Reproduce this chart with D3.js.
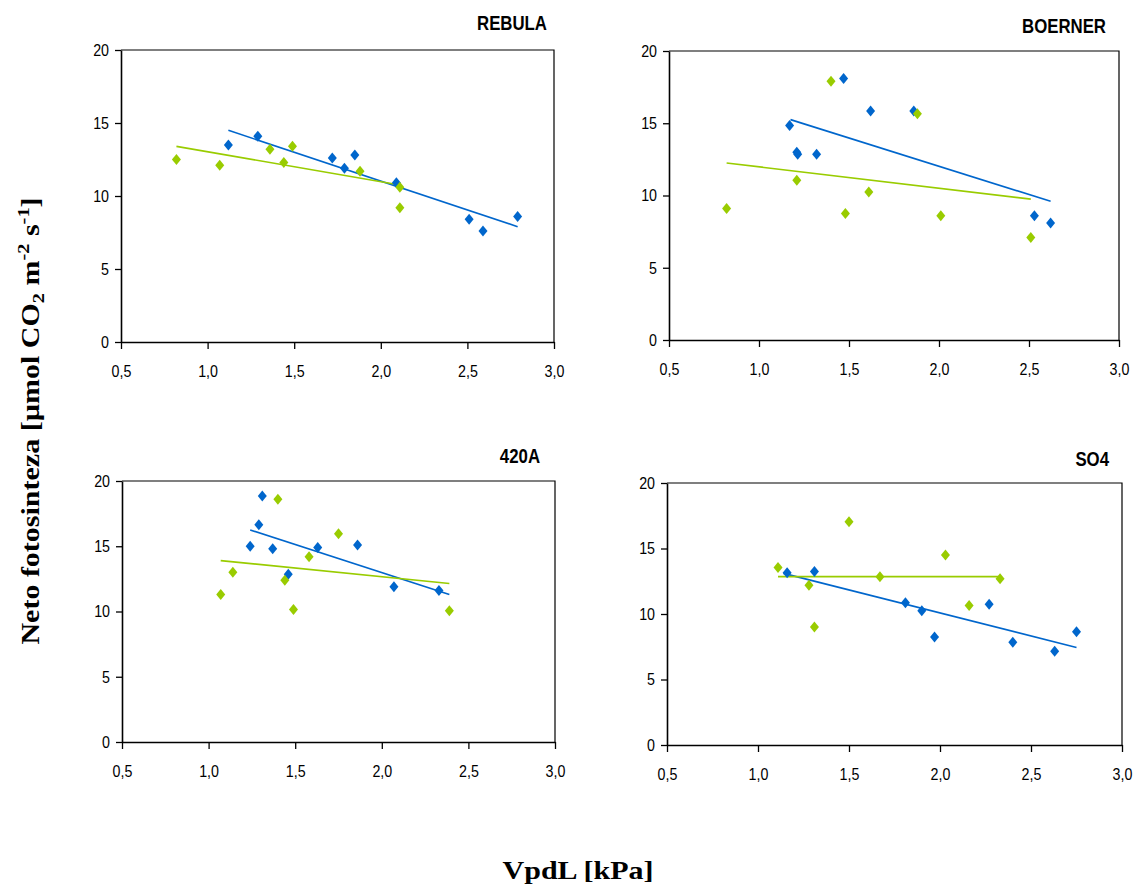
<!DOCTYPE html>
<html lang="sl">
  <head>
    <meta charset="UTF-8" />
    <title>Neto fotosinteza / VpdL</title>
    <script src="https://cdn.jsdelivr.net/npm/d3@7"></script>
    <style>
      body { margin: 0; background: #fff; }
      svg { display: block; }
      .tick line { stroke: #000; stroke-width: 1.3; }
      .domain { stroke: #000; stroke-width: 1.6; }
    </style>
  </head>
  <body>
    <svg id="chart" width="1135" height="886"></svg>
    <script>
      // axis ticks
      var xTicks = [0.5, 1.0, 1.5, 2.0, 2.5, 3.0];
      var yTicks = [0, 5, 10, 15, 20];
      var panelNames = ["REBULA", "BOERNER", "420A", "SO4"];

      // points: [VpdL, neto fotosinteza]
      var rebulaBlue = [[1.12, 13.5], [1.29, 14.1], [1.72, 12.6], [1.79, 11.9], [1.85, 12.8],
                        [2.09, 10.9], [2.51, 8.4], [2.59, 7.6], [2.79, 8.6]];
      var rebulaGreen = [[0.82, 12.5], [1.07, 12.1], [1.36, 13.2], [1.44, 12.3], [1.49, 13.4],
                         [1.88, 11.7], [2.11, 10.6], [2.11, 9.2]];
      var boernerBlue = [[1.17, 14.85], [1.21, 13.0], [1.215, 12.85], [1.32, 12.85], [1.47, 18.1],
                         [1.62, 15.85], [1.86, 15.85], [2.53, 8.6], [2.62, 8.1]];
      var boernerGreen = [[0.82, 9.1], [1.21, 11.05], [1.40, 17.9], [1.48, 8.75], [1.61, 10.25],
                          [1.88, 15.65], [2.01, 8.6], [2.51, 7.1]];
      var a420Blue = [[1.24, 15.0], [1.29, 16.65], [1.31, 18.85], [1.37, 14.8], [1.46, 12.85],
                      [1.63, 14.9], [1.86, 15.1], [2.07, 11.9], [2.33, 11.6]];
      var a420Green = [[1.07, 11.3], [1.14, 13.0], [1.40, 18.6], [1.44, 12.4], [1.49, 10.15],
                       [1.58, 14.2], [1.75, 15.95], [2.39, 10.05]];
      var so4Blue = [[1.16, 13.15], [1.31, 13.25], [1.81, 10.85], [1.90, 10.25], [1.97, 8.25],
                     [2.27, 10.75], [2.40, 7.85], [2.63, 7.15], [2.75, 8.65]];
      var so4Green = [[1.11, 13.55], [1.28, 12.2], [1.31, 9.0], [1.50, 17.05], [1.67, 12.85],
                      [2.03, 14.5], [2.16, 10.65], [2.33, 12.7]];

      // trend line ends: [x1, y1, x2, y2]
      var rebulaBlueFit = [1.12, 14.5, 2.79, 7.9];
      var rebulaGreenFit = [0.82, 13.4, 2.11, 10.75];
      var boernerBlueFit = [1.175, 15.25, 2.62, 9.6];
      var boernerGreenFit = [0.82, 12.25, 2.51, 9.75];
      var a420BlueFit = [1.24, 16.25, 2.39, 11.3];
      var a420GreenFit = [1.07, 13.9, 2.39, 12.15];
      var so4BlueFit = [1.14, 13.1, 2.75, 7.45];
      var so4GreenFit = [1.11, 12.85, 2.33, 12.85];

      var blue = "#0066cc", green = "#99cc00";

      var panels = [
        { name: panelNames[0], box: [121, 50, 554, 342], title: [547, 30],
          series: [[rebulaBlue, rebulaBlueFit, blue], [rebulaGreen, rebulaGreenFit, green]] },
        { name: panelNames[1], box: [669, 51, 1119, 340], title: [1106, 33],
          series: [[boernerBlue, boernerBlueFit, blue], [boernerGreen, boernerGreenFit, green]] },
        { name: panelNames[2], box: [122, 481, 555, 742], title: [540, 463],
          series: [[a420Blue, a420BlueFit, blue], [a420Green, a420GreenFit, green]] },
        { name: panelNames[3], box: [667, 483, 1122, 745], title: [1109, 466],
          series: [[so4Blue, so4BlueFit, blue], [so4Green, so4GreenFit, green]] }
      ];

      var svg = d3.select("#chart");
      var tickFont = "Liberation Sans, Arial, sans-serif";

      // diamond marker, a bit taller than wide
      function diamond(w, h) {
        return "M0," + (-h / 2) + "L" + (w / 2) + ",0L0," + (h / 2) + "L" + (-w / 2) + ",0Z";
      }

      panels.forEach(function(p) {
        var x0 = p.box[0], y0 = p.box[1], x1 = p.box[2], y1 = p.box[3];
        var xScale = d3.scaleLinear().domain([0.5, 3.0]).range([x0, x1]);
        var yScale = d3.scaleLinear().domain([0, 20]).range([y1, y0]);

        var g = svg.append("g");

        // top and right border
        g.append("path")
          .attr("d", "M" + x0 + "," + y0 + "H" + x1 + "V" + y1)
          .attr("fill", "none")
          .attr("stroke", "#000")
          .attr("stroke-width", 1.2);

        var xAxis = d3.axisBottom(xScale)
          .tickValues(xTicks)
          .tickSize(7)
          .tickSizeOuter(0)
          .tickPadding(16)
          .tickFormat(function(d) { return d3.format(".1f")(d).replace(".", ","); });
        var yAxis = d3.axisLeft(yScale)
          .tickValues(yTicks)
          .tickSize(6)
          .tickSizeOuter(0)
          .tickPadding(6)
          .tickFormat(d3.format("d"));

        var gx = g.append("g")
          .attr("transform", "translate(0," + y1 + ")")
          .call(xAxis);
        var gy = g.append("g")
          .attr("transform", "translate(" + x0 + ",0)")
          .call(yAxis);

        [gx, gy].forEach(function(ax) {
          ax.selectAll("text")
            .attr("font-family", tickFont)
            .attr("font-size", 17)
            .attr("fill", "#000");
        });
        // condensed look of the tick numbers
        gx.selectAll("text").attr("transform", "scale(0.84,1)");
        gy.selectAll("text").attr("transform", "scale(0.84,1)").attr("x", -12 / 0.84);

        // trend lines
        p.series.forEach(function(s) {
          var f = s[1];
          g.append("line")
            .attr("x1", xScale(f[0])).attr("y1", yScale(f[1]))
            .attr("x2", xScale(f[2])).attr("y2", yScale(f[3]))
            .attr("stroke", s[2])
            .attr("stroke-width", 1.6);
        });

        // points
        p.series.forEach(function(s) {
          g.selectAll(null)
            .data(s[0])
            .enter()
            .append("path")
            .attr("d", diamond(9, 11))
            .attr("transform", function(d) {
              return "translate(" + xScale(d[0]) + "," + yScale(d[1]) + ")";
            })
            .attr("fill", s[2]);
        });

        // panel title
        g.append("text")
          .attr("transform", "translate(" + p.title[0] + "," + p.title[1] + ") scale(0.8,1)")
          .attr("text-anchor", "end")
          .attr("font-family", tickFont)
          .attr("font-weight", "bold")
          .attr("font-size", 21)
          .text(p.name);
      });

      // y axis title
      var yTitle = svg.append("text")
        .attr("transform", "translate(39,421) rotate(-90) scale(1.2,1)")
        .attr("text-anchor", "middle")
        .attr("font-family", "Liberation Serif, Times New Roman, serif")
        .attr("font-weight", "bold")
        .attr("font-size", 25);
      yTitle.append("tspan").text("Neto fotosinteza [µmol CO");
      yTitle.append("tspan").attr("font-size", 17).attr("dy", 5).text("2");
      yTitle.append("tspan").attr("dy", -5).text(" m");
      yTitle.append("tspan").attr("font-size", 17).attr("dy", -10).text("-2");
      yTitle.append("tspan").attr("dy", 10).text(" s");
      yTitle.append("tspan").attr("font-size", 17).attr("dy", -10).text("-1");
      yTitle.append("tspan").attr("dy", 10).text("]");

      // x axis title
      svg.append("text")
        .attr("transform", "translate(578,879) scale(1.2,1)")
        .attr("text-anchor", "middle")
        .attr("font-family", "Liberation Serif, Times New Roman, serif")
        .attr("font-weight", "bold")
        .attr("font-size", 25)
        .text("VpdL [kPa]");
    </script>
  </body>
</html>
